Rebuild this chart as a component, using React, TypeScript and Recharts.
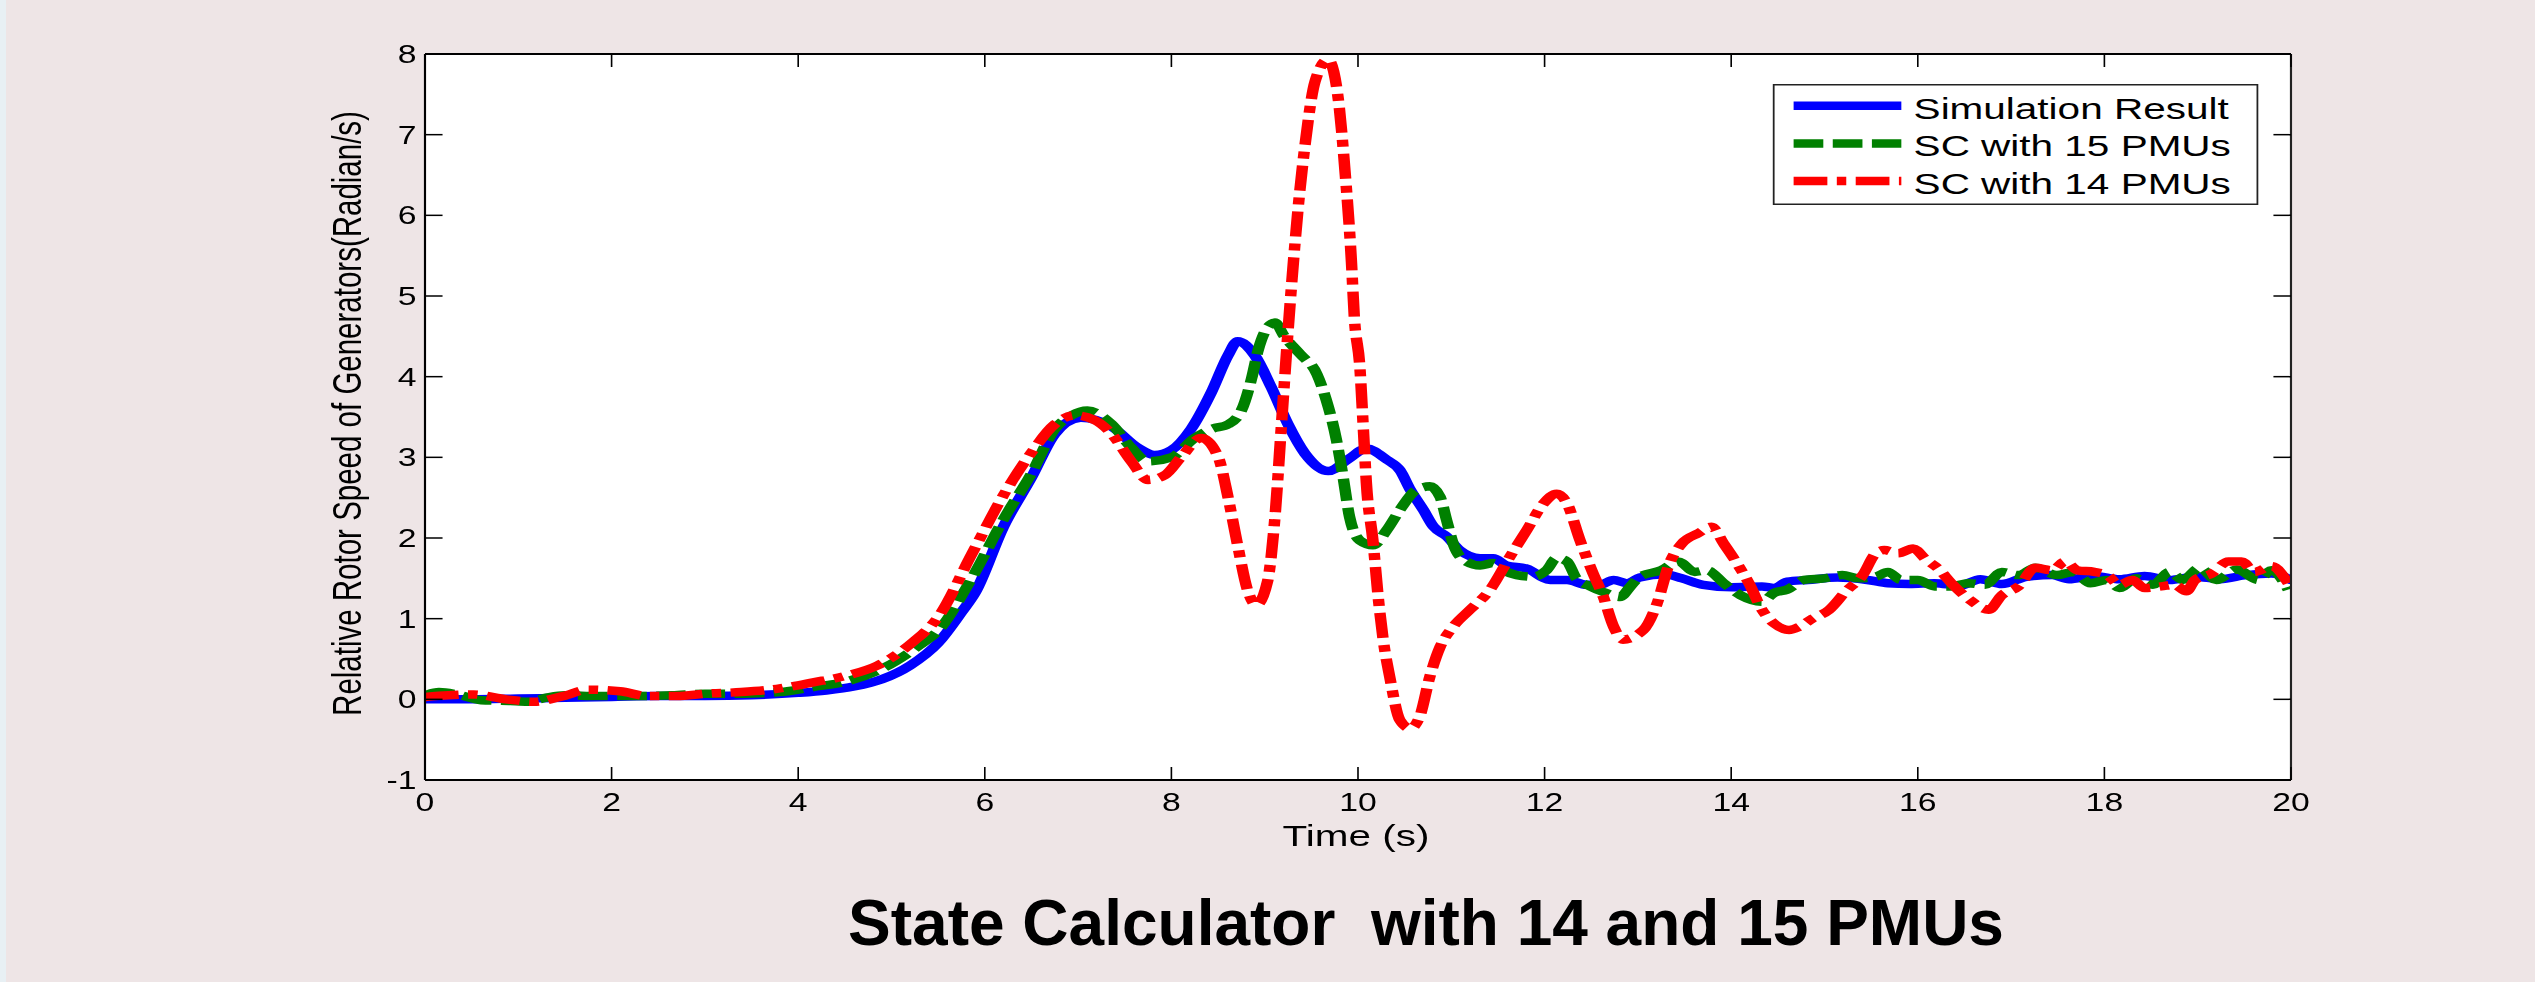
/**
 * Relative rotor speed — simulation vs. state calculator (14 / 15 PMUs).
 * MATLAB-style figure, horizontally stretched like the source image.
 */
import React from 'react';
import { LineChart, Line, XAxis, YAxis, CartesianGrid, Legend, Label } from 'recharts';

// ─── Data: [time (s), speed (rad/s)] ─────────────────────────────

const simulationResult: [number, number][] = [
  [0, 0], [0.5, 0], [1, 0.01], [1.5, 0.02], [2, 0.03], [2.5, 0.04], [3, 0.04], [3.5, 0.05],
  [4, 0.08], [4.3, 0.11], [4.6, 0.16], [4.9, 0.25], [5.2, 0.42], [5.5, 0.7], [5.75, 1.08],
  [5.9, 1.33], [6.2, 2.14], [6.5, 2.75], [6.75, 3.29], [7.03, 3.49], [7.36, 3.38], [7.64, 3.12],
  [7.82, 3.03], [8.0, 3.09], [8.21, 3.35], [8.43, 3.81], [8.61, 4.27], [8.71, 4.44], [8.89, 4.27],
  [9.07, 3.87], [9.25, 3.41], [9.43, 3.05], [9.68, 2.83], [9.9, 2.98], [10.09, 3.11], [10.31, 2.97],
  [10.45, 2.84], [10.56, 2.6], [10.7, 2.35], [10.81, 2.14], [10.95, 2.02], [11.09, 1.85],
  [11.31, 1.75], [11.45, 1.75], [11.59, 1.66], [11.81, 1.62], [12.06, 1.48], [12.24, 1.48],
  [12.45, 1.42], [12.59, 1.42], [12.74, 1.48], [12.88, 1.44], [13.02, 1.51], [13.29, 1.55],
  [13.47, 1.5], [13.7, 1.42], [14.01, 1.39], [14.33, 1.4], [14.46, 1.38], [14.6, 1.46],
  [14.82, 1.48], [15.14, 1.51], [15.46, 1.48], [15.68, 1.44], [15.91, 1.43], [16.18, 1.44],
  [16.45, 1.41], [16.67, 1.49], [16.9, 1.43], [17.17, 1.52], [17.44, 1.54], [17.62, 1.49],
  [17.89, 1.53], [18.16, 1.49], [18.43, 1.53], [18.7, 1.48], [18.97, 1.52], [19.24, 1.49],
  [19.52, 1.54], [19.79, 1.56], [20, 1.48],
];

const scWith15: [number, number][] = [
  [0, 0.05], [0.15, 0.09], [0.35, 0.06], [0.6, -0.01], [0.9, -0.02], [1.1, -0.03], [1.3, 0.02],
  [1.5, 0.05], [1.85, 0.04], [2.25, 0.04], [2.65, 0.05], [3.0, 0.07], [3.4, 0.07], [3.8, 0.09],
  [4.15, 0.15], [4.55, 0.23], [4.9, 0.38], [5.3, 0.67], [5.5, 0.85], [5.86, 1.5], [6.21, 2.25],
  [6.5, 2.8], [6.75, 3.35], [6.93, 3.52], [7.1, 3.58], [7.36, 3.41], [7.57, 3.12], [7.75, 2.95],
  [8.0, 3.0], [8.25, 3.24], [8.43, 3.35], [8.61, 3.41], [8.75, 3.58], [8.86, 3.98], [8.93, 4.33],
  [9.03, 4.61], [9.11, 4.67], [9.21, 4.5], [9.38, 4.28], [9.56, 4.03], [9.66, 3.71], [9.77, 3.21],
  [9.84, 2.76], [9.91, 2.26], [10.02, 1.97], [10.16, 1.91], [10.31, 2.1], [10.45, 2.35],
  [10.63, 2.6], [10.77, 2.64], [10.88, 2.51], [10.95, 2.22], [11.02, 1.93], [11.13, 1.73],
  [11.31, 1.66], [11.45, 1.69], [11.56, 1.6], [11.7, 1.54], [11.88, 1.52], [12.02, 1.6],
  [12.13, 1.75], [12.24, 1.71], [12.34, 1.5], [12.49, 1.4], [12.63, 1.33], [12.81, 1.27],
  [12.92, 1.4], [13.02, 1.52], [13.25, 1.6], [13.43, 1.71], [13.61, 1.58], [13.74, 1.6],
  [13.92, 1.44], [14.1, 1.29], [14.33, 1.21], [14.46, 1.32], [14.6, 1.36], [14.78, 1.48],
  [15.0, 1.5], [15.19, 1.54], [15.37, 1.5], [15.55, 1.52], [15.68, 1.58], [15.82, 1.48],
  [16.0, 1.48], [16.18, 1.4], [16.36, 1.4], [16.54, 1.44], [16.72, 1.42], [16.9, 1.58],
  [17.08, 1.54], [17.26, 1.63], [17.49, 1.54], [17.67, 1.58], [17.85, 1.44], [18.03, 1.48],
  [18.16, 1.38], [18.34, 1.5], [18.52, 1.42], [18.7, 1.58], [18.84, 1.48], [19.02, 1.63],
  [19.2, 1.48], [19.42, 1.61], [19.65, 1.48], [19.79, 1.6], [19.97, 1.36],
];

const scWith14: [number, number][] = [
  [0, 0.03], [0.25, 0.05], [0.52, 0.06], [0.87, 0.0], [1.17, -0.03], [1.48, 0.04], [1.75, 0.12],
  [2.09, 0.1], [2.4, 0.04], [2.7, 0.04], [3.01, 0.07], [3.39, 0.09], [3.77, 0.13], [4.16, 0.21],
  [4.54, 0.3], [4.85, 0.42], [5.23, 0.71], [5.5, 1.02], [5.86, 1.8], [6.21, 2.55], [6.5, 3.06],
  [6.75, 3.41], [6.96, 3.52], [7.18, 3.46], [7.36, 3.29], [7.57, 2.95], [7.75, 2.72], [7.93, 2.78],
  [8.11, 3.01], [8.32, 3.24], [8.5, 3.01], [8.61, 2.49], [8.71, 1.91], [8.82, 1.34], [8.91, 1.17],
  [9.03, 1.46], [9.11, 2.26], [9.18, 3.41], [9.25, 4.56], [9.32, 5.59], [9.36, 6.11], [9.43, 6.85],
  [9.54, 7.66], [9.68, 7.93], [9.79, 7.43], [9.86, 6.56], [9.93, 5.42], [9.96, 4.75], [10.02, 4.12],
  [10.06, 3.3], [10.09, 2.68], [10.16, 1.97], [10.22, 1.23], [10.27, 0.74], [10.34, 0.28],
  [10.45, -0.26], [10.56, -0.36], [10.66, -0.22], [10.77, 0.28], [10.88, 0.65], [11.02, 0.9],
  [11.2, 1.11], [11.41, 1.35], [11.63, 1.77], [11.81, 2.1], [11.99, 2.43], [12.13, 2.55],
  [12.24, 2.43], [12.38, 1.97], [12.52, 1.56], [12.63, 1.27], [12.74, 0.9], [12.84, 0.74],
  [13.06, 0.86], [13.2, 1.17], [13.34, 1.69], [13.47, 1.93], [13.65, 2.06], [13.79, 2.14],
  [13.92, 1.93], [14.06, 1.69], [14.19, 1.44], [14.33, 1.11], [14.46, 0.94], [14.62, 0.86],
  [14.73, 0.9], [14.87, 1.0], [15.05, 1.11], [15.23, 1.34], [15.41, 1.54], [15.55, 1.81],
  [15.64, 1.85], [15.79, 1.81], [15.95, 1.87], [16.09, 1.73], [16.22, 1.62], [16.36, 1.44],
  [16.54, 1.25], [16.76, 1.11], [16.9, 1.29], [17.08, 1.4], [17.26, 1.63], [17.44, 1.6],
  [17.58, 1.71], [17.71, 1.6], [17.89, 1.58], [18.03, 1.54], [18.16, 1.42], [18.3, 1.48],
  [18.43, 1.38], [18.61, 1.4], [18.75, 1.42], [18.88, 1.34], [18.97, 1.48], [19.15, 1.56],
  [19.33, 1.71], [19.47, 1.71], [19.61, 1.58], [19.79, 1.65], [19.97, 1.44],
];

const xTicks = [0, 2, 4, 6, 8, 10, 12, 14, 16, 18, 20];
const yTicks = [-1, 0, 1, 2, 3, 4, 5, 6, 7, 8];
const seriesNames = ['Simulation Result', 'SC with 15 PMUs', 'SC with 14 PMUs'];
const chartTitle = 'State Calculator  with 14 and 15 PMUs';
const xLabel = 'Time (s)';
const yLabel = 'Relative Rotor Speed of Generators(Radian/s)';

// ─── Layout / style ──────────────────────────────────────────────

const STRETCH = 1.35; // source figure is stretched horizontally
const PAGE_W = 2535;
const PAGE_H = 982;
const CHART_W = PAGE_W / STRETCH;
const CHART_H = 900;
const PLOT_LEFT = 425 / STRETCH;
const PLOT_RIGHT = 2291 / STRETCH;
const PLOT_TOP = 54;
const PLOT_BOTTOM = 780;
const AX = 1; // axes need a non-zero size to be drawn
const TICK_LEN = 13;
const FONT = '"Liberation Sans", Arial, Helvetica, sans-serif';
const BG = '#eee5e6';

const COLORS = ['#0000ff', '#008000', '#ff0000'];
const DASHES = [undefined, '22 7', '25 7 7 7'];
const LINE_W = 8.5;

const LEG_LEFT = 1773 / STRETCH;
const LEG_TOP = 84;
const LEG_W = (2259 - 1773) / STRETCH;
const LEG_H = 121;

const toRows = (pts: [number, number][]) => pts.map(([t, v]) => ({ t, v }));

// ─── Ticks (MATLAB style: pointing inward) ──────────────────────

const BottomTick = ({ x, y, payload }: any) => (
  <g>
    <line x1={x} x2={x} y1={y} y2={y - TICK_LEN} stroke="#000" strokeWidth={1.2} />
    <text x={x} y={y + 31.5} textAnchor="middle" fontSize={25} fontFamily={FONT} fill="#000">
      {payload.value}
    </text>
  </g>
);

const TopTick = ({ x, y }: any) => (
  <line x1={x} x2={x} y1={y} y2={y + TICK_LEN} stroke="#000" strokeWidth={1.2} />
);

const LeftTick = ({ x, y, payload }: any) => (
  <g>
    <line x1={x} x2={x + TICK_LEN} y1={y} y2={y} stroke="#000" strokeWidth={1.5} />
    <text x={x - 6.3} y={y + 9} textAnchor="end" fontSize={25} fontFamily={FONT} fill="#000">
      {payload.value}
    </text>
  </g>
);

const RightTick = ({ x, y }: any) => (
  <line x1={x} x2={x - TICK_LEN} y1={y} y2={y} stroke="#000" strokeWidth={1.5} />
);

const YTitle = () => {
  const x = PLOT_LEFT - 47.4;
  const y = (PLOT_TOP + PLOT_BOTTOM) / 2 - 3.5;
  return (
    <text x={x} y={y} transform={`rotate(-90 ${x} ${y})`} textAnchor="middle" fontSize={29.5} fontFamily={FONT} fill="#000">
      {yLabel}
    </text>
  );
};

const XTitle = () => (
  <text x={(PLOT_LEFT + PLOT_RIGHT) / 2 - 1.5} y={PLOT_BOTTOM + 66} textAnchor="middle" fontSize={30} fontFamily={FONT} fill="#000">
    {xLabel}
  </text>
);

const LegendBox = ({ payload }: any) => {
  const items = [...(payload || [])].sort(
    (a: any, b: any) => seriesNames.indexOf(a.value) - seriesNames.indexOf(b.value),
  );
  return (
    <svg width={LEG_W} height={LEG_H} style={{ display: 'block' }}>
      <rect x={0.75} y={0.75} width={LEG_W - 1.5} height={LEG_H - 1.5} fill="#fff" stroke="#222" strokeWidth={1.5} />
      {items.map((it: any, i: number) => {
        const idx = seriesNames.indexOf(it.value);
        const rowY = 21.7 + i * 37.7;
        return (
          <g key={it.value}>
            <line
              x1={15.6}
              x2={95.4}
              y1={rowY}
              y2={rowY}
              stroke={COLORS[idx]}
              strokeWidth={LINE_W}
              strokeDasharray={DASHES[idx]}
            />
            <text x={104.5} y={rowY + 13} fontSize={30} fontFamily={FONT} fill="#000">
              {it.value}
            </text>
          </g>
        );
      })}
    </svg>
  );
};

// ─── Chart ───────────────────────────────────────────────────────

export default function App() {
  const series = [simulationResult, scWith15, scWith14];
  return (
    <div style={{ position: 'absolute', left: 0, top: 0, width: PAGE_W, height: PAGE_H, background: BG, overflow: 'hidden' }}>
      <div style={{ position: 'absolute', left: 0, top: 0, width: 6, height: PAGE_H, background: '#e8f0f4' }} />
      <div style={{ position: 'absolute', left: 0, top: 0, transform: `scaleX(${STRETCH})`, transformOrigin: '0 0' }}>
        <LineChart
          width={CHART_W}
          height={CHART_H}
          margin={{
            top: PLOT_TOP - AX,
            left: PLOT_LEFT - AX,
            right: CHART_W - PLOT_RIGHT - AX,
            bottom: CHART_H - PLOT_BOTTOM - AX,
          }}
        >
          <CartesianGrid fill="#ffffff" horizontal={false} vertical={false} stroke="none" />
          <XAxis
            dataKey="t"
            type="number"
            domain={[0, 20]}
            ticks={xTicks}
            allowDataOverflow
            height={AX}
            tickSize={0}
            tickMargin={0}
            tick={<BottomTick />}
            axisLine={{ stroke: '#000', strokeWidth: 2 }}
          >
            <Label content={<XTitle />} />
          </XAxis>
          <XAxis
            xAxisId="top"
            orientation="top"
            dataKey="t"
            type="number"
            domain={[0, 20]}
            ticks={xTicks}
            allowDataOverflow
            height={AX}
            tickSize={0}
            tickMargin={0}
            tick={<TopTick />}
            axisLine={{ stroke: '#000', strokeWidth: 2 }}
          />
          <YAxis
            type="number"
            domain={[-1, 8]}
            ticks={yTicks}
            allowDataOverflow
            width={AX}
            tickSize={0}
            tickMargin={0}
            tick={<LeftTick />}
            axisLine={{ stroke: '#000', strokeWidth: 1.6 }}
          >
            <Label content={<YTitle />} />
          </YAxis>
          <YAxis
            yAxisId="right"
            orientation="right"
            type="number"
            domain={[-1, 8]}
            ticks={yTicks}
            allowDataOverflow
            width={AX}
            tickSize={0}
            tickMargin={0}
            tick={<RightTick />}
            axisLine={{ stroke: '#222', strokeWidth: 1.6 }}
          />
          {series.map((pts, i) => (
            <Line
              key={seriesNames[i]}
              name={seriesNames[i]}
              data={toRows(pts)}
              dataKey="v"
              type="monotone"
              stroke={COLORS[i]}
              strokeWidth={LINE_W}
              strokeDasharray={DASHES[i]}
              strokeLinejoin="round"
              strokeLinecap={i === 0 ? 'round' : 'butt'}
              dot={false}
              activeDot={false}
              isAnimationActive={false}
            />
          ))}
          <Legend
            layout="horizontal"
            verticalAlign="middle"
            align="center"
            content={<LegendBox />}
            wrapperStyle={{ position: 'absolute', left: LEG_LEFT, top: LEG_TOP, width: LEG_W, height: LEG_H }}
          />
        </LineChart>
      </div>
      <svg width={PAGE_W} height={PAGE_H} style={{ position: 'absolute', left: 0, top: 0, pointerEvents: 'none' }}>
        <text
          x={1426}
          y={945}
          textAnchor="middle"
          fontSize={64}
          fontWeight="bold"
          fontFamily={FONT}
          fill="#000"
          style={{ whiteSpace: 'pre' }}
        >
          {chartTitle}
        </text>
      </svg>
    </div>
  );
}
